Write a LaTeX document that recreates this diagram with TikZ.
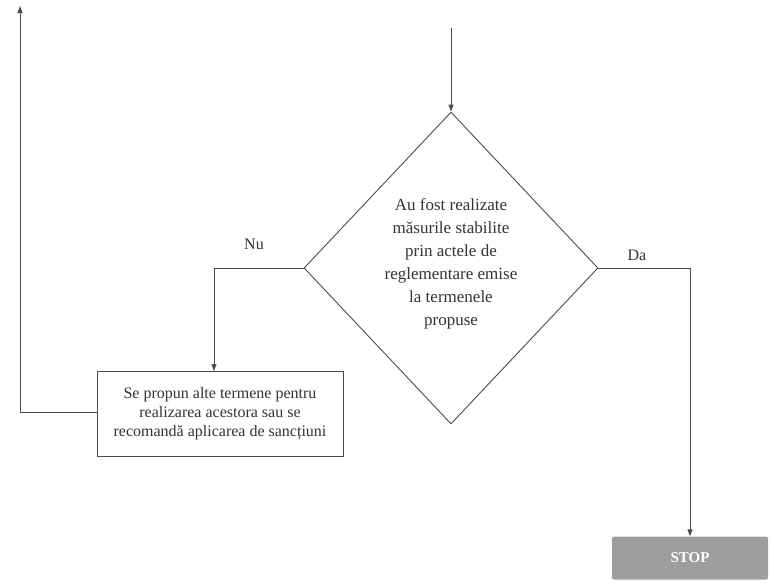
\documentclass[tikz,border=0pt]{standalone}
\usepackage{fontspec}
\setmainfont{Liberation Serif}
\usetikzlibrary{arrows.meta, positioning, shapes.geometric}

\tikzset{
  flow/.style={draw=black!70, line width=0.9pt},
  arr/.style={flow, -{Triangle[length=7pt,width=5pt]}},
  decision/.style={diamond, draw=black!70, line width=0.9pt,
                   minimum width=294pt, minimum height=312pt, inner sep=0pt},
  actionbox/.style={draw=black!70, line width=0.9pt, minimum width=246pt,
                    minimum height=85pt, align=center,
                    font=\fontsize{16}{19}\selectfont, text=black!80},
  stopbox/.style={fill=black!38, rounded corners=2pt, minimum width=156pt,
                  minimum height=43pt, text=white,
                  font=\fontsize{15}{17}\selectfont\bfseries},
  lbl/.style={font=\fontsize{16}{18}\selectfont, text=black!80}
}

\begin{document}
\begin{tikzpicture}[x=1pt,y=-1pt]
\useasboundingbox (0,0) rectangle (770,587);

% --- DECISION ---
\node[decision] (dec) at (451,268) {};
\node[align=center, font=\fontsize{17}{23}\selectfont, text=black!80] (ask) at (451,264)
  {Au fost realizate\\măsurile stabilite\\prin actele de\\reglementare emise\\la termenele\\propuse};

% --- ENTRY ---
\coordinate (in) at (451,28);
\draw[arr] (in) -- (dec.north);

% --- NU BRANCH ---
\node[actionbox] (act) at (220,414)
  {Se propun alte termene pentru\\realizarea acestora sau se\\recomandă aplicarea de sancțiuni};
\coordinate (nu) at (214,268);
\draw[arr] (dec.west) -- (nu) -- (nu |- act.north);
\node[lbl] (nulbl) at (254,244) {Nu};

% --- RETURN ---
\coordinate (back) at (20,412);
\coordinate (backtop) at (20,6);
\draw[arr] (act.west |- back) -- (back) -- (backtop);

% --- DA BRANCH ---
\node[stopbox] (stop) at (690,558) {STOP};
\coordinate (da) at (690,268);
\draw[arr] (dec.east) -- (da) -- (stop.north);
\node[lbl] (dalbl) at (637,255) {Da};
\end{tikzpicture}
\end{document}
